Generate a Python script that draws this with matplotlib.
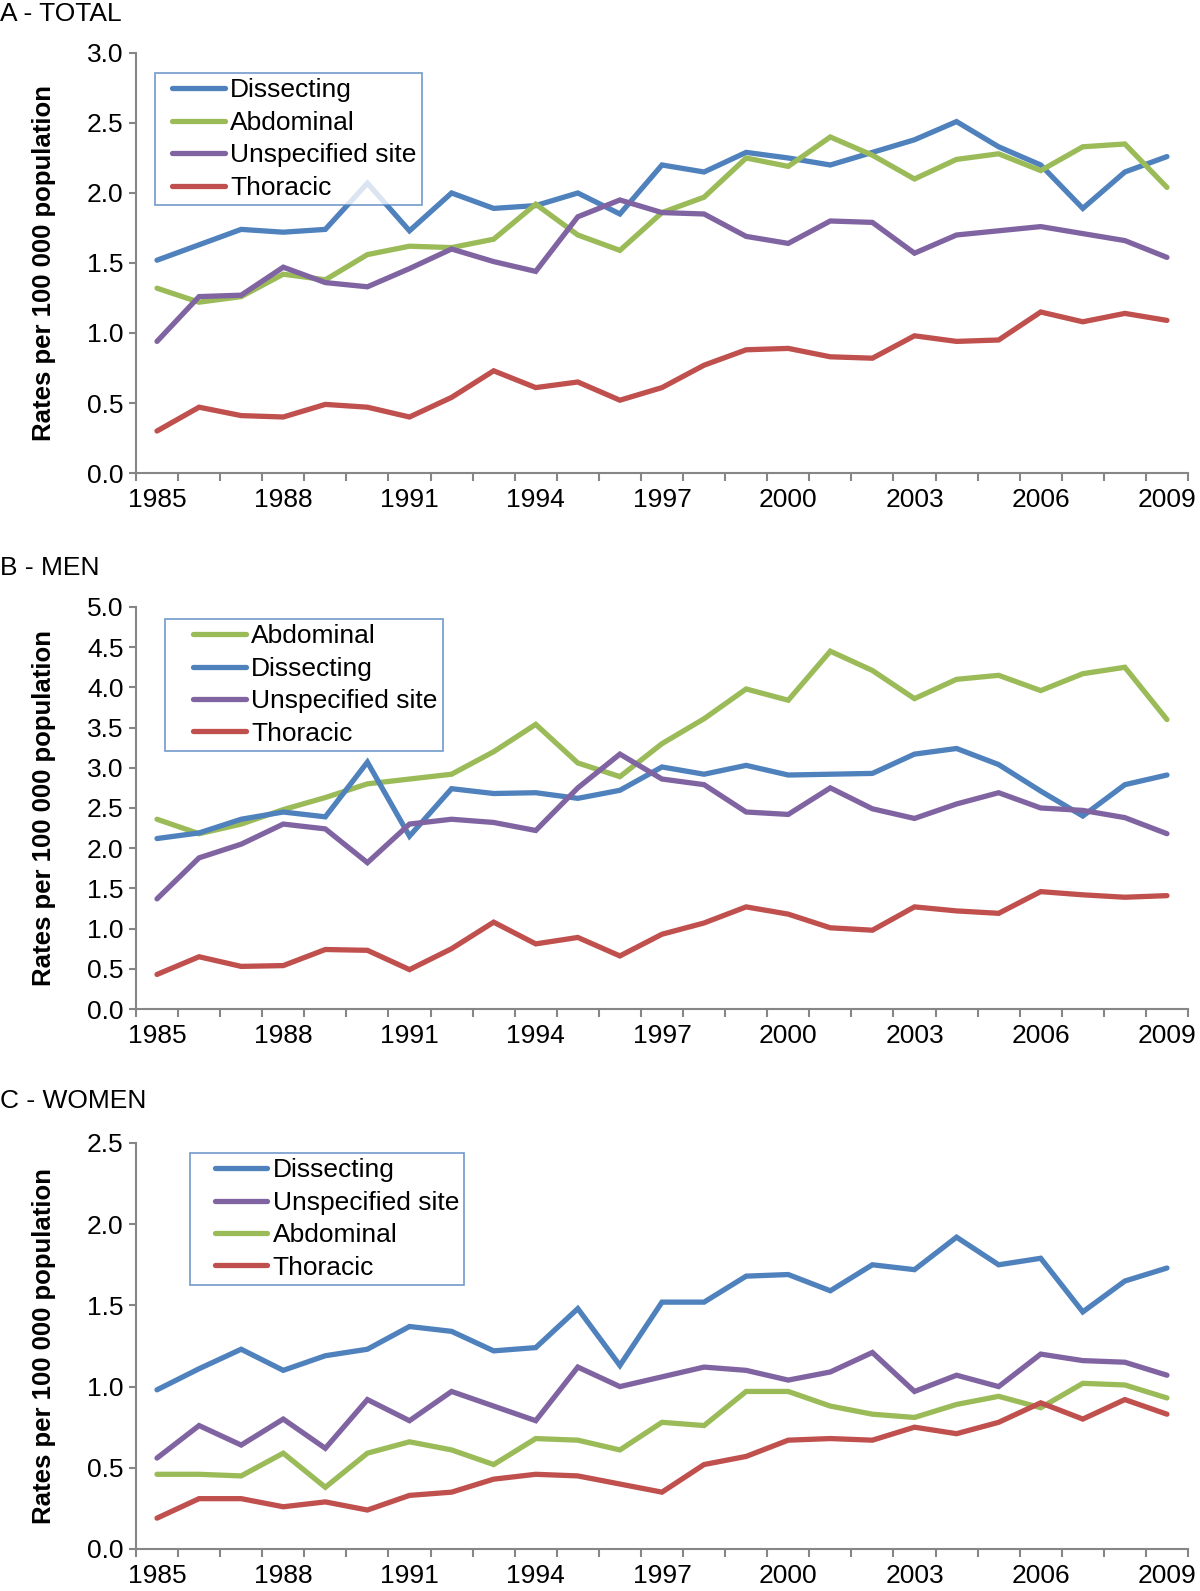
import numpy as np
import matplotlib.pyplot as plt
from matplotlib.lines import Line2D
from matplotlib.legend_handler import HandlerLine2D

plt.rcParams['font.family'] = ['Liberation Sans', 'DejaVu Sans']

years = list(range(1985, 2010))
tick_years = [1985, 1988, 1991, 1994, 1997, 2000, 2003, 2006, 2009]

# A - total
total_dissecting = [1.52, 1.63, 1.74, 1.72, 1.74, 2.07, 1.73, 2.00, 1.89, 1.91, 2.00, 1.85, 2.20,
                    2.15, 2.29, 2.25, 2.20, 2.29, 2.38, 2.51, 2.33, 2.20, 1.89, 2.15, 2.26]
total_abdominal = [1.32, 1.22, 1.26, 1.42, 1.38, 1.56, 1.62, 1.61, 1.67, 1.92, 1.70, 1.59, 1.86,
                   1.97, 2.25, 2.19, 2.40, 2.27, 2.10, 2.24, 2.28, 2.16, 2.33, 2.35, 2.04]
total_unspecified = [0.94, 1.26, 1.27, 1.47, 1.36, 1.33, 1.46, 1.60, 1.51, 1.44, 1.83, 1.95, 1.86,
                     1.85, 1.69, 1.64, 1.80, 1.79, 1.57, 1.70, 1.73, 1.76, 1.71, 1.66, 1.54]
total_thoracic = [0.30, 0.47, 0.41, 0.40, 0.49, 0.47, 0.40, 0.54, 0.73, 0.61, 0.65, 0.52, 0.61,
                  0.77, 0.88, 0.89, 0.83, 0.82, 0.98, 0.94, 0.95, 1.15, 1.08, 1.14, 1.09]

# B - men
men_abdominal = [2.36, 2.18, 2.30, 2.48, 2.63, 2.80, 2.86, 2.92, 3.20, 3.54, 3.06, 2.89, 3.30,
                 3.61, 3.98, 3.84, 4.45, 4.21, 3.86, 4.10, 4.15, 3.96, 4.17, 4.25, 3.60]
men_dissecting = [2.12, 2.19, 2.36, 2.45, 2.39, 3.07, 2.15, 2.74, 2.68, 2.69, 2.62, 2.72, 3.01,
                  2.92, 3.03, 2.91, 2.92, 2.93, 3.17, 3.24, 3.04, 2.71, 2.40, 2.79, 2.91]
men_unspecified = [1.37, 1.88, 2.05, 2.30, 2.24, 1.82, 2.30, 2.36, 2.32, 2.22, 2.75, 3.17, 2.86,
                   2.79, 2.45, 2.42, 2.75, 2.49, 2.37, 2.55, 2.69, 2.50, 2.47, 2.38, 2.18]
men_thoracic = [0.43, 0.65, 0.53, 0.54, 0.74, 0.73, 0.49, 0.75, 1.08, 0.81, 0.89, 0.66, 0.93,
                1.07, 1.27, 1.18, 1.01, 0.98, 1.27, 1.22, 1.19, 1.46, 1.42, 1.39, 1.41]

# C - women
women_dissecting = [0.98, 1.11, 1.23, 1.10, 1.19, 1.23, 1.37, 1.34, 1.22, 1.24, 1.48, 1.13, 1.52,
                    1.52, 1.68, 1.69, 1.59, 1.75, 1.72, 1.92, 1.75, 1.79, 1.46, 1.65, 1.73]
women_unspecified = [0.56, 0.76, 0.64, 0.80, 0.62, 0.92, 0.79, 0.97, 0.88, 0.79, 1.12, 1.00, 1.06,
                     1.12, 1.10, 1.04, 1.09, 1.21, 0.97, 1.07, 1.00, 1.20, 1.16, 1.15, 1.07]
women_abdominal = [0.46, 0.46, 0.45, 0.59, 0.38, 0.59, 0.66, 0.61, 0.52, 0.68, 0.67, 0.61, 0.78,
                   0.76, 0.97, 0.97, 0.88, 0.83, 0.81, 0.89, 0.94, 0.87, 1.02, 1.01, 0.93]
women_thoracic = [0.19, 0.31, 0.31, 0.26, 0.29, 0.24, 0.33, 0.35, 0.43, 0.46, 0.45, 0.40, 0.35,
                  0.52, 0.57, 0.67, 0.68, 0.67, 0.75, 0.71, 0.78, 0.90, 0.80, 0.92, 0.83]

colors = {'Dissecting': '#4F81BD', 'Abdominal': '#9BBB59',
          'Unspecified site': '#8064A2', 'Thoracic': '#C0504D'}
gray = '#868686'

# title, series, y max, axes rect, legend anchor, legend handle offset, title y (px)
panels = [
    ('A - TOTAL', [('Dissecting', total_dissecting), ('Abdominal', total_abdominal),
                   ('Unspecified site', total_unspecified), ('Thoracic', total_thoracic)],
     3.0, [0.1133, 0.7027, 0.8767, 0.2640], (0.018, 0.952), 0.45, 14),
    ('B - MEN', [('Abdominal', men_abdominal), ('Dissecting', men_dissecting),
                 ('Unspecified site', men_unspecified), ('Thoracic', men_thoracic)],
     5.0, [0.1133, 0.3658, 0.8767, 0.2527], (0.028, 0.970), 0.85, 568),
    ('C - WOMEN', [('Dissecting', women_dissecting), ('Unspecified site', women_unspecified),
                   ('Abdominal', women_abdominal), ('Thoracic', women_thoracic)],
     2.5, [0.1133, 0.0264, 0.8767, 0.2552], (0.051, 0.975), 0.75, 1101),
]

fig = plt.figure(figsize=(12, 15.91), dpi=100)

for title, series, ymax, rect, leg_pos, hpad, title_y in panels:
    ax = fig.add_axes(rect)
    for name, vals in series:
        ax.plot(years, vals, color=colors[name], lw=3.8, label=name,
                solid_capstyle='round', solid_joinstyle='miter')
    ax.set_xlim(years[0] - 0.5, years[-1] + 0.5)
    ax.set_ylim(0, ymax)
    ax.set_yticks(np.arange(0, ymax + 0.01, 0.5))
    ax.set_yticklabels(['%.1f' % v for v in np.arange(0, ymax + 0.01, 0.5)])
    ax.set_xticks(tick_years)
    ax.set_xticklabels([str(y) for y in tick_years])
    ax.set_xticks(np.arange(years[0] - 0.5, years[-1] + 0.6, 1), minor=True)
    for side in ['top', 'right']:
        ax.spines[side].set_visible(False)
    for side in ['left', 'bottom']:
        ax.spines[side].set_color(gray)
        ax.spines[side].set_linewidth(1.5)
    ax.tick_params(axis='x', which='major', length=0, pad=11, labelsize=19)
    ax.tick_params(axis='x', which='minor', length=6, width=1.5, color=gray, direction='out')
    ax.tick_params(axis='y', length=5, width=1.5, color=gray, pad=4, labelsize=19)
    ax.set_ylabel('Rates per 100 000 population', fontsize=18.5, fontweight='bold')
    ax.yaxis.set_label_coords(-0.076, 0.5)
    leg = ax.legend(loc='upper left', bbox_to_anchor=leg_pos, borderaxespad=0,
                    fontsize=19, frameon=True, fancybox=False, handlelength=2.0 + hpad,
                    handletextpad=0.2, labelspacing=0.32, borderpad=0.2,
                    handler_map={Line2D: HandlerLine2D(xpad=hpad)})
    leg.get_frame().set_edgecolor('#4F81BD')
    leg.get_frame().set_linewidth(1.2)
    fig.text(0.0, 1 - title_y / 1591, title, fontsize=19, ha='left', va='center')

fig.savefig('out.png', dpi=100)
